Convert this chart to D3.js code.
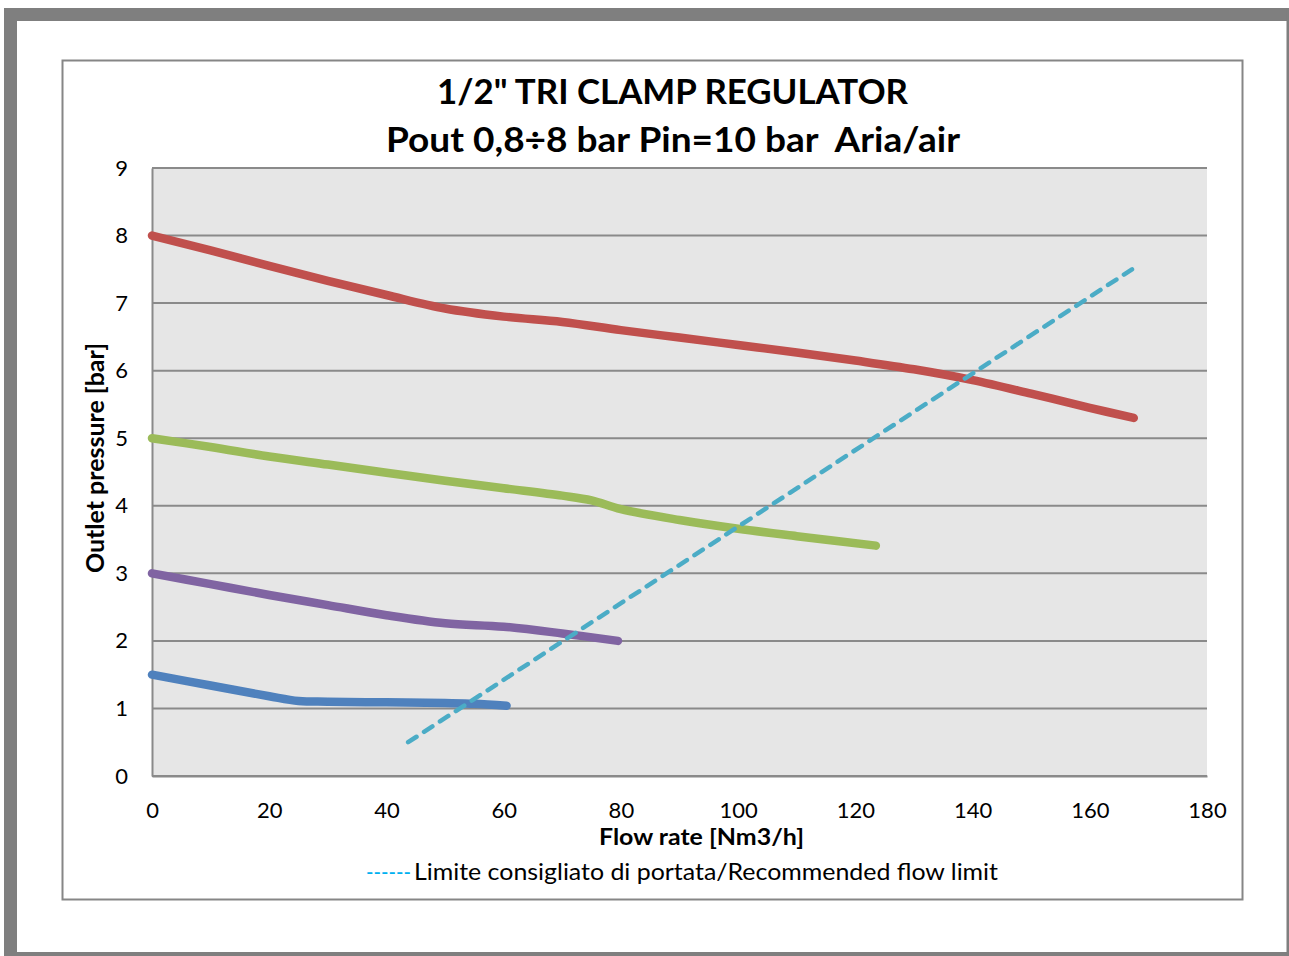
<!DOCTYPE html>
<html>
<head>
<meta charset="utf-8">
<script src="https://cdn.jsdelivr.net/npm/d3@7"></script>
<style>
  body { margin: 0; background: #fff; }
  svg { display: block; font-family: Lato, "Open Sans", sans-serif; }
</style>
</head>
<body>
<svg id="chart" width="1289" height="956"></svg>
<script>
"use strict";

// data (flow Nm3/h -> pressure bar)
var flow8 = [0, 10, 20, 30, 40, 50, 60, 70, 80, 90, 100, 110, 120, 130, 140, 150, 160, 167.5];
var pres8 = [8.0, 7.78, 7.55, 7.33, 7.12, 6.92, 6.8, 6.72, 6.6, 6.49, 6.38, 6.27, 6.15, 6.02, 5.86, 5.66, 5.45, 5.3];

var flow5 = [0, 10, 20, 30, 40, 50, 60, 70, 75, 80, 90, 100, 110, 123.5];
var pres5 = [5.0, 4.87, 4.73, 4.61, 4.49, 4.37, 4.26, 4.15, 4.08, 3.95, 3.79, 3.66, 3.55, 3.41];

var flow3 = [0, 10, 20, 30, 40, 50, 60, 70, 79.5];
var pres3 = [3.0, 2.84, 2.68, 2.53, 2.38, 2.26, 2.21, 2.11, 2.0];

var flow15 = [0, 10, 20, 25, 30, 40, 50, 55, 60.5];
var pres15 = [1.5, 1.34, 1.18, 1.11, 1.1, 1.09, 1.08, 1.07, 1.04];

var limitFlow = [43.7, 167.2];
var limitPres = [0.5, 7.5];

var xTicks = [0, 20, 40, 60, 80, 100, 120, 140, 160, 180];
var yTicks = [0, 1, 2, 3, 4, 5, 6, 7, 8, 9];

var seriesColors = ["#c0504d", "#9bbb59", "#8064a2", "#4f81bd"];
var limitColor = "#4bacc6";

var svg = d3.select("#chart");

// outer page frame
svg.append("rect").attr("x", 10.5).attr("y", 14.5).attr("width", 1276).attr("height", 939)
  .attr("fill", "none").attr("stroke", "#7f7f7f").attr("stroke-width", 13);
svg.append("rect").attr("x", 17).attr("y", 21).attr("width", 1270).attr("height", 931)
  .attr("fill", "#fff");
svg.append("line").attr("x1", 1288).attr("x2", 1288).attr("y1", 8).attr("y2", 956)
  .attr("stroke", "#7f7f7f").attr("stroke-width", 3);
svg.append("line").attr("x1", 4).attr("x2", 1289).attr("y1", 954).attr("y2", 954)
  .attr("stroke", "#7f7f7f").attr("stroke-width", 4);

// chart area border
svg.append("rect").attr("x", 62.5).attr("y", 60.5).attr("width", 1180).attr("height", 839)
  .attr("fill", "#fff").attr("stroke", "#868686").attr("stroke-width", 2);

var x = d3.scaleLinear().domain([0, 180]).range([152, 1207]);
var y = d3.scaleLinear().domain([0, 9]).range([776, 168]);

// plot background
svg.append("rect").attr("x", x(0)).attr("y", y(9))
  .attr("width", x(180) - x(0)).attr("height", y(0) - y(9))
  .attr("fill", "#e6e6e6");

// gridlines
svg.append("g").selectAll("line").data(yTicks).enter().append("line")
  .attr("x1", x(0)).attr("x2", x(180))
  .attr("y1", function (d) { return y(d); }).attr("y2", function (d) { return y(d); })
  .attr("stroke", "#8a8a8a").attr("stroke-width", 2);

// axes
var xAxis = svg.append("g").attr("transform", "translate(0," + y(0) + ")")
  .call(d3.axisBottom(x).tickValues(xTicks).tickSize(0));
var yAxis = svg.append("g").attr("transform", "translate(" + x(0) + ",0)")
  .call(d3.axisLeft(y).tickValues(yTicks).tickSize(0).tickPadding(24));
[xAxis, yAxis].forEach(function (a) {
  a.select(".domain").attr("stroke", "#8a8a8a").attr("stroke-width", 2);
  a.selectAll("text").attr("font-family", "Lato, sans-serif").attr("font-size", 22).attr("fill", "#000");
});
xAxis.selectAll("text").attr("dy", "0.71em").attr("y", 26);

var line = d3.line()
  .x(function (d) { return x(d[0]); })
  .y(function (d) { return y(d[1]); })
  .curve(d3.curveCatmullRom.alpha(0.5));

var series = [[flow8, pres8], [flow5, pres5], [flow3, pres3], [flow15, pres15]];
series.forEach(function (s, i) {
  var pts = d3.zip(s[0], s[1]);
  svg.append("path").attr("d", line(pts))
    .attr("fill", "none").attr("stroke", seriesColors[i])
    .attr("stroke-width", 8.5).attr("stroke-linecap", "round").attr("stroke-linejoin", "round");
});

// recommended limit
svg.append("path").attr("d", d3.line()
    .x(function (d) { return x(d[0]); })
    .y(function (d) { return y(d[1]); })(d3.zip(limitFlow, limitPres)))
  .attr("fill", "none").attr("stroke", limitColor).attr("stroke-width", 4.5)
  .attr("stroke-dasharray", "10,9").attr("stroke-linecap", "round");

// titles
var title = svg.append("text")
  .attr("font-family", "Lato, sans-serif").attr("font-weight", "bold").attr("font-size", 35)
  .style("white-space", "pre");
title.append("tspan").attr("x", 437).attr("y", 104).attr("textLength", 471)
  .attr("lengthAdjust", "spacingAndGlyphs").text("1/2\" TRI CLAMP REGULATOR");
title.append("tspan").attr("x", 386).attr("y", 152).attr("textLength", 574)
  .attr("lengthAdjust", "spacingAndGlyphs").text("Pout 0,8\u00f78 bar Pin=10 bar  Aria/air");

svg.append("text")
  .attr("transform", "translate(104,573) rotate(-90)")
  .attr("font-family", "Lato, sans-serif").attr("font-weight", "bold").attr("font-size", 24)
  .attr("textLength", 230).attr("lengthAdjust", "spacingAndGlyphs")
  .text("Outlet pressure [bar]");

svg.append("text").attr("x", 599).attr("y", 845)
  .attr("font-family", "Lato, sans-serif").attr("font-weight", "bold").attr("font-size", 22)
  .attr("textLength", 205).attr("lengthAdjust", "spacingAndGlyphs")
  .text("Flow rate [Nm3/h]");

var leg = svg.append("text").attr("y", 880)
  .attr("font-family", "Lato, sans-serif").attr("font-size", 23);
leg.append("tspan").attr("x", 366).attr("fill", "#00b0f0")
  .attr("textLength", 45).attr("lengthAdjust", "spacingAndGlyphs").text("------");
leg.append("tspan").attr("x", 414).attr("fill", "#000")
  .attr("textLength", 584).attr("lengthAdjust", "spacingAndGlyphs")
  .text("Limite consigliato di portata/Recommended flow limit");
</script>
</body>
</html>
